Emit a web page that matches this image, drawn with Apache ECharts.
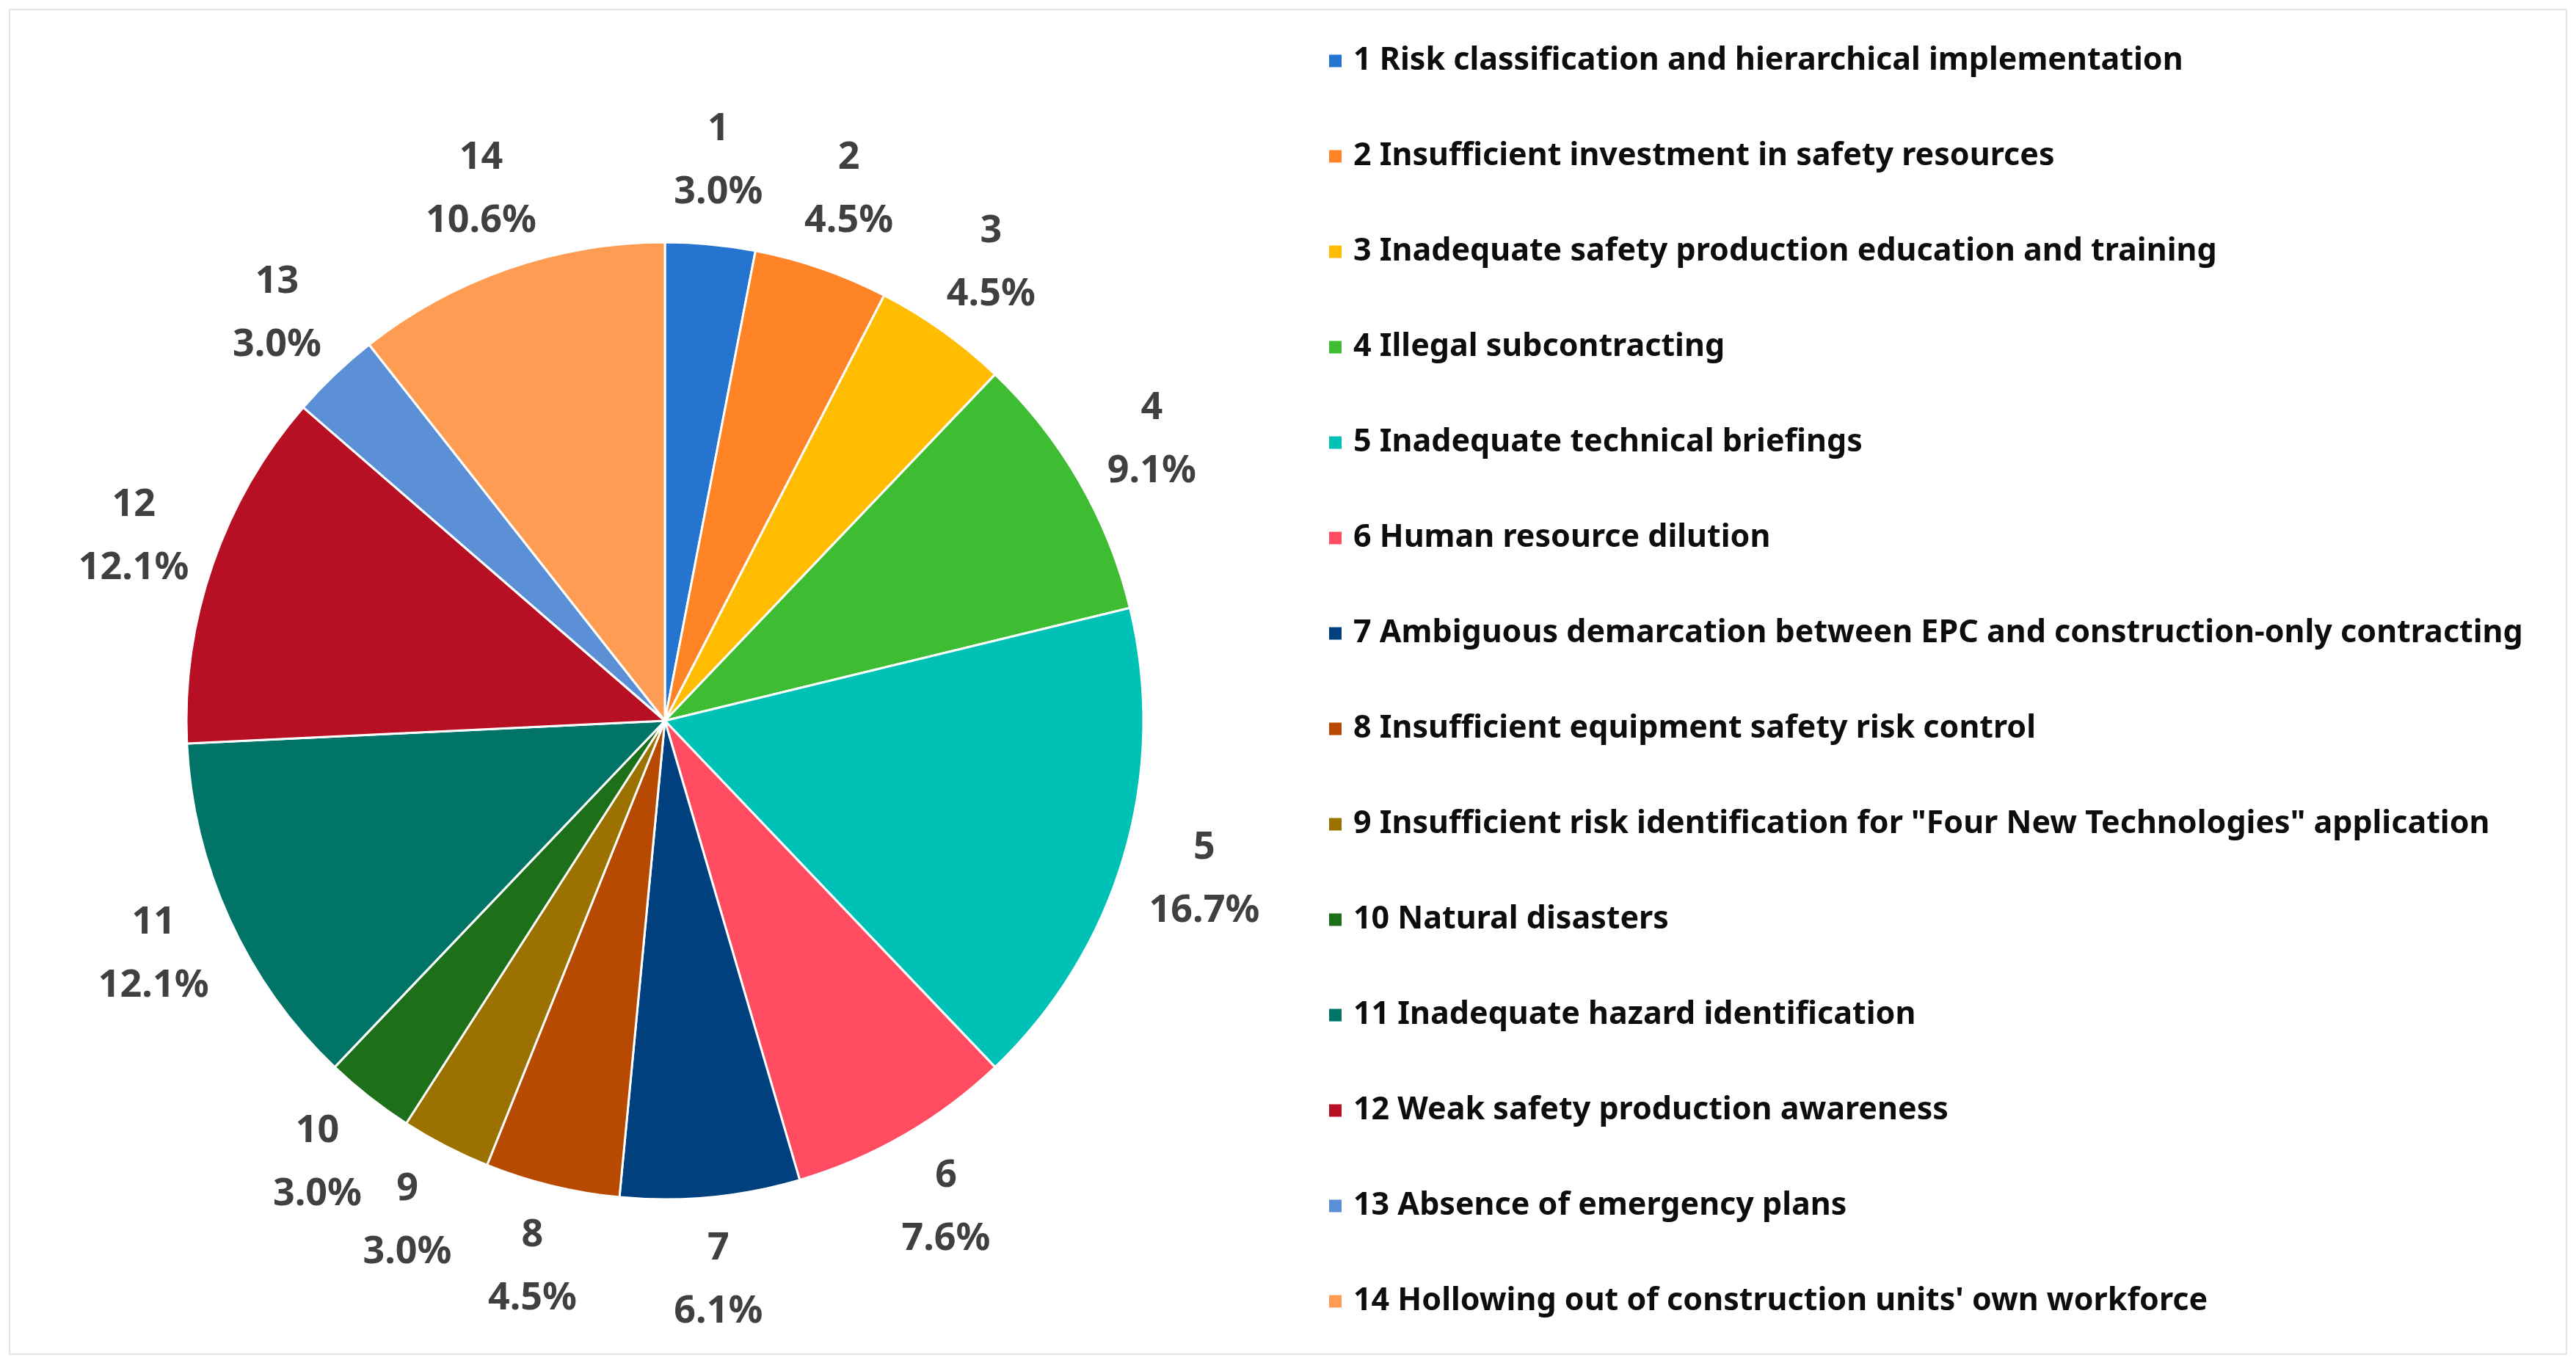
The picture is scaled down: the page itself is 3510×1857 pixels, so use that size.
<!DOCTYPE html>
<html>
<head>
<meta charset="utf-8">
<script src="https://cdn.jsdelivr.net/npm/echarts@6/dist/echarts.min.js"></script>
<style>
  html, body { margin: 0; padding: 0; background: #ffffff; }
  #chart { position: absolute; left: 0; top: 0; width: 3510px; height: 1857px; }
  #frame { position: absolute; left: 12px; top: 12px; width: 3482px; height: 1830px;
           border: 2px solid #e6e6e6; pointer-events: none; }
</style>
</head>
<body>
<div id="chart"></div>
<div id="frame"></div>
<script>
const ids = ['1','2','3','4','5','6','7','8','9','10','11','12','13','14'];
const categories = [
  'Risk classification and hierarchical implementation',
  'Insufficient investment in safety resources',
  'Inadequate safety production education and training',
  'Illegal subcontracting',
  'Inadequate technical briefings',
  'Human resource dilution',
  'Ambiguous demarcation between EPC and construction-only contracting',
  'Insufficient equipment safety risk control',
  'Insufficient risk identification for "Four New Technologies" application',
  'Natural disasters',
  'Inadequate hazard identification',
  'Weak safety production awareness',
  'Absence of emergency plans',
  "Hollowing out of construction units' own workforce"
];
const values = [2, 3, 3, 6, 11, 5, 4, 3, 2, 2, 8, 8, 2, 7];
const colors = ['#2574D0','#FF8426','#FFBC00','#3EBD33','#00C1B5','#FF4C61','#00407F',
                '#B74A00','#9B7100','#1D7019','#007567','#B70F23','#5B90D6','#FF9C53'];

const total = values.reduce((a, b) => a + b, 0);
const names = ids.map((id, i) => id + ' ' + categories[i]);
const pieData = values.map((v, i) => ({ name: names[i], value: v, itemStyle: { color: colors[i] } }));
const labelData = values.map((v, i) => ({ name: names[i], value: v }));

const chart = echarts.init(document.getElementById('chart'), null, { renderer: 'canvas' });
chart.setOption({
  backgroundColor: '#ffffff',
  animation: false,
  legend: {
    orient: 'vertical',
    left: 1809,
    top: 61,
    padding: 0,
    itemWidth: 19,
    itemHeight: 19,
    itemGap: 86,
    icon: 'rect',
    selectedMode: false,
    data: names,
    textStyle: {
      fontFamily: 'Noto Sans',
      fontWeight: 'bold',
      fontSize: 43,
      lineHeight: 44,
      color: '#0d0d0d',
      padding: [0, 0, 0, 10]
    }
  },
  series: [
    {
      type: 'pie',
      center: [906, 982],
      radius: 652,
      startAngle: 90,
      clockwise: true,
      silent: true,
      label: { show: false },
      labelLine: { show: false },
      itemStyle: { borderColor: '#ffffff', borderWidth: 3 },
      data: pieData
    },
    {
      type: 'pie',
      center: [906, 982],
      radius: [738, 788],
      startAngle: 90,
      clockwise: true,
      silent: true,
      itemStyle: { color: 'rgba(0,0,0,0)', borderWidth: 0 },
      labelLine: { show: false },
      emphasis: { disabled: true },
      label: {
        show: true,
        position: 'inside',
        fontFamily: 'Noto Sans',
        fontWeight: 'bold',
        fontSize: 52,
        lineHeight: 86,
        color: '#404040',
        formatter: p => ids[p.dataIndex] + '\n' + (p.value / total * 100).toFixed(1) + '%'
      },
      data: labelData
    }
  ]
});
</script>
</body>
</html>
